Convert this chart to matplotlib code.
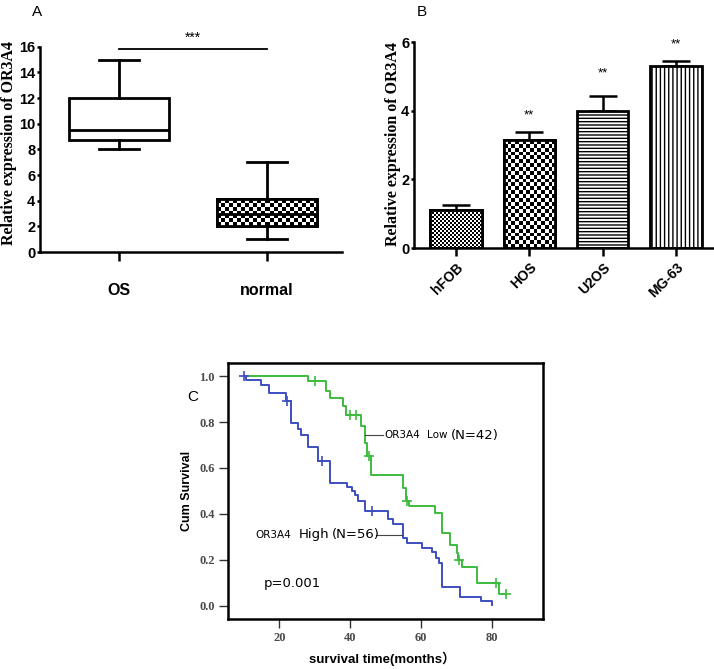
import numpy as np
import matplotlib
matplotlib.use("Agg")
import matplotlib.pyplot as plt

# ---------------- data ----------------
# Panel A: box plot stats
box_groups = ["OS", "normal"]
box_whislo = [8.0, 1.0]
box_q1 = [8.75, 2.0]
box_med = [9.5, 3.0]
box_q3 = [12.0, 4.1]
box_whishi = [15.0, 7.0]
sig_y_A = 15.8

# Panel B: bar chart
cell_lines = ["hFOB", "HOS", "U2OS", "MG-63"]
bar_means = [1.10, 3.15, 4.00, 5.32]
bar_errs = [0.14, 0.22, 0.42, 0.13]
bar_sig = ["", "**", "**", "**"]
bar_sig_y = [0, 3.88, 5.10, 5.95]

# Panel C: Kaplan-Meier curves
low_t = [10, 28.1, 33.3, 34.2, 38.0, 38.9, 43.2, 44.1, 44.9, 46.0, 54.9, 55.8,
         56.6, 64.0, 66.0, 68.2, 70.1, 70.6, 71.5, 75.9, 82.1, 84.1]
low_s = [1.0, 0.977, 0.933, 0.904, 0.868, 0.832, 0.781, 0.708, 0.650, 0.568,
         0.514, 0.457, 0.434, 0.402, 0.315, 0.264, 0.228, 0.199, 0.170, 0.100,
         0.050, 0.050]
low_cens_t = [30.2, 39.9, 41.8, 45.3, 56.1, 70.8, 81.1, 84.1]
low_cens_s = [0.977, 0.832, 0.832, 0.650, 0.457, 0.199, 0.100, 0.050]

high_t = [10, 10.7, 14.9, 17.0, 21.8, 23.2, 25.3, 26.2, 28.1, 30.9, 34.2, 39.0,
          40.5, 41.3, 42.2, 44.1, 50.8, 52.1, 54.9, 56.0, 60.2, 63.0, 64.2, 65.0,
          66.0, 71.0, 77.0, 80.0]
high_s = [1.0, 0.984, 0.962, 0.926, 0.890, 0.797, 0.770, 0.743, 0.690, 0.629,
          0.533, 0.518, 0.500, 0.482, 0.455, 0.414, 0.377, 0.354, 0.293, 0.271,
          0.250, 0.232, 0.206, 0.186, 0.083, 0.039, 0.020, 0.003]
high_cens_t = [10.0, 22.1, 32.1, 46.1]
high_cens_s = [1.0, 0.890, 0.629, 0.414]

low_label = ("OR3A4", "Low", "(N=42)")
high_label = ("OR3A4", "High", "(N=56)")
p_text = "p=0.001"

# ---------------- styling ----------------
SANS = "Liberation Sans"
SERIF = "Liberation Serif"
W, H = 714, 669
fig = plt.figure(figsize=(W / 100, H / 100), dpi=100)
fig.patch.set_facecolor("white")
plt.rcParams["hatch.linewidth"] = 1.0


def fbox(l, t, r, b):
    return [l / W, 1 - b / H, (r - l) / W, (b - t) / H]


def checker(ax, patch, x0, x1, y0, y1, cell_px, z=2.5):
    p0 = ax.transData.transform((x0, y0))
    p1 = ax.transData.transform((x1, y1))
    nx = max(1, int(round(abs(p1[0] - p0[0]) / cell_px)))
    ny = max(1, int(round(abs(p1[1] - p0[1]) / cell_px)))
    arr = (np.add.outer(np.arange(ny), np.arange(nx)) % 2).astype(float)
    im = ax.imshow(arr, extent=(x0, x1, y0, y1), cmap="gray", vmin=0, vmax=1,
                   interpolation="nearest", aspect="auto", zorder=z,
                   origin="lower")
    im.set_clip_path(patch)


# ---------------- Panel A ----------------
axA = fig.add_axes(fbox(40, 46.7, 342, 252))
axA.set_xlim(0.466, 2.507)
axA.set_ylim(0, 16)
stats = []
for i, g in enumerate(box_groups):
    stats.append(dict(label=g, whislo=box_whislo[i], q1=box_q1[i], med=box_med[i],
                      q3=box_q3[i], whishi=box_whishi[i], fliers=[]))
lw = 2.0
bp = axA.bxp(stats, positions=[1, 2], widths=0.676, patch_artist=True,
             showfliers=False, capwidths=0.27,
             boxprops=dict(facecolor="white", edgecolor="black", linewidth=lw),
             whiskerprops=dict(color="black", linewidth=lw),
             capprops=dict(color="black", linewidth=lw),
             medianprops=dict(color="black", linewidth=lw))
for b in bp["boxes"]:
    b.set_zorder(1)
for art in bp["medians"] + bp["whiskers"] + bp["caps"]:
    art.set_zorder(3)
nb = bp["boxes"][1]
checker(axA, nb, 2 - 0.338, 2 + 0.338, box_q1[1], box_q3[1], 4.0, z=1.5)
nb2 = plt.Rectangle((2 - 0.338, box_q1[1]), 0.676, box_q3[1] - box_q1[1],
                    fill=False, edgecolor="black", linewidth=lw, zorder=3)
axA.add_patch(nb2)
axA.set_xlim(0.466, 2.507)
axA.set_ylim(0, 16)
for s in ["top", "right"]:
    axA.spines[s].set_visible(False)
for s in ["left", "bottom"]:
    axA.spines[s].set_linewidth(1.8)
axA.set_yticks(np.arange(0, 17, 2))
axA.set_xticks([1, 2])
axA.set_xticklabels(box_groups, fontsize=11.5, fontweight="bold", family=SANS)
axA.tick_params(axis="x", length=6.5, width=1.8, pad=16)
axA.tick_params(axis="y", length=2.5, width=1.8, pad=1)
for t in axA.get_yticklabels():
    t.set_fontsize(10.5); t.set_fontweight("bold"); t.set_family(SANS)
axA.set_ylabel("Relative expression of OR3A4", family=SERIF, fontweight="bold",
               fontsize=11.5)
axA.yaxis.set_label_coords(-0.076, 0.533)
axA.plot([1, 2], [sig_y_A, sig_y_A], color="black", lw=1.3, clip_on=False)
axA.text(1.5, sig_y_A + 0.35, "***", ha="center", va="bottom", fontsize=10,
         family=SANS)
fig.text(32 / W, 1 - 16 / H, "A", fontsize=11, family=SANS)

# ---------------- Panel B ----------------
axB = fig.add_axes(fbox(414, 42.3, 713, 248))
xpos = np.arange(len(cell_lines))
axB.set_xlim(-0.573, 3.505)
axB.set_ylim(0, 6)
bars = axB.bar(xpos, bar_means, width=0.7, color="white", edgecolor="black",
               linewidth=2.0, zorder=2)
axB.errorbar(xpos, bar_means, yerr=[np.zeros(len(bar_errs)), bar_errs], fmt="none",
             ecolor="black", elinewidth=1.8, capsize=10, capthick=1.8, zorder=1)
checker(axB, bars[0], -0.35, 0.35, 0, bar_means[0], 2.0)
checker(axB, bars[1], 1 - 0.35, 1.35, 0, bar_means[1], 3.8)
bars[2].set_hatch("-----")
bars[3].set_hatch("||||")
for i in [0, 1]:
    r = plt.Rectangle((xpos[i] - 0.35, 0), 0.7, bar_means[i], fill=False,
                      edgecolor="black", linewidth=2.0, zorder=3)
    axB.add_patch(r)
axB.set_xlim(-0.573, 3.505)
axB.set_ylim(0, 6)
for i, s in enumerate(bar_sig):
    if s:
        axB.text(xpos[i], bar_sig_y[i], s, ha="center", va="center", fontsize=9.5,
                 family=SANS)
for s in ["top", "right"]:
    axB.spines[s].set_visible(False)
for s in ["left", "bottom"]:
    axB.spines[s].set_linewidth(1.8)
axB.set_yticks([0, 2, 4, 6])
axB.set_xticks(xpos)
axB.set_xticklabels(cell_lines, rotation=45, ha="right", rotation_mode="anchor",
                    fontsize=10, fontweight="bold", family=SANS)
axB.tick_params(axis="x", length=6, width=1.8, pad=3)
axB.tick_params(axis="y", length=2.5, width=1.8, pad=1)
for t in axB.get_yticklabels():
    t.set_fontsize(10.5); t.set_fontweight("bold"); t.set_family(SANS)
axB.set_ylabel("Relative expression of OR3A4", family=SERIF, fontweight="bold",
               fontsize=11.5)
axB.yaxis.set_label_coords(-0.045, 0.503)
fig.text(417 / W, 1 - 16 / H, "B", fontsize=11, family=SANS)

# ---------------- Panel C ----------------
axC = fig.add_axes(fbox(228, 363, 543, 619))
green = "#3dbb3d"
blue = "#3d4fc0"
axC.step(low_t, low_s, where="post", color=green, lw=1.4)
axC.step(high_t, high_s, where="post", color=blue, lw=1.4)
axC.plot(low_cens_t, low_cens_s, "+", color=green, ms=7, mew=1.2)
axC.plot(high_cens_t, high_cens_s, "+", color=blue, ms=7, mew=1.2)
axC.set_xlim(5.5, 94.5)
axC.set_ylim(-0.058, 1.057)
for s in axC.spines.values():
    s.set_linewidth(1.8)
axC.set_xticks([20, 40, 60, 80])
axC.set_yticks([0, 0.2, 0.4, 0.6, 0.8, 1.0])
axC.set_yticklabels(["%.1f" % v for v in [0, 0.2, 0.4, 0.6, 0.8, 1.0]])
axC.tick_params(length=6.5, width=1.0, pad=3, colors="#333333")
for t in axC.get_xticklabels() + axC.get_yticklabels():
    t.set_fontsize(9); t.set_fontweight("bold"); t.set_family(SERIF)
    t.set_color("#4a4a4a")
axC.set_ylabel("Cum Survival", fontsize=9, fontweight="bold", family=SANS)
axC.yaxis.set_label_coords(-0.111, 0.5)
axC.set_xlabel("survival time(months\uff09", fontsize=9.5, fontweight="bold",
               family=[SANS, "Noto Sans CJK SC"])
axC.xaxis.set_label_coords(0.49, -0.128)
axC.plot([44.2, 49.4], [0.743, 0.743], color="#444444", lw=0.8)
axC.text(49.6, 0.743, low_label[0], fontsize=7.5, va="center", family="DejaVu Sans")
axC.text(61.6, 0.743, low_label[1], fontsize=7.5, va="center", family="DejaVu Sans")
axC.text(68.4, 0.743, low_label[2], fontsize=9.5, va="center", family="DejaVu Sans")
axC.plot([47.3, 54.9], [0.308, 0.308], color="#444444", lw=0.8)
axC.text(13.1, 0.308, high_label[0], fontsize=7.5, va="center", family="DejaVu Sans")
axC.text(25.4, 0.308, high_label[1], fontsize=9.5, va="center", family="DejaVu Sans")
axC.text(34.8, 0.308, high_label[2], fontsize=9.5, va="center", family="DejaVu Sans")
axC.text(15.5, 0.097, p_text, fontsize=9.5, va="center", family="DejaVu Sans")
fig.text(187 / W, 1 - 401 / H, "C", fontsize=11, family=SANS)

fig.savefig("out.png", dpi=100, facecolor="white")
